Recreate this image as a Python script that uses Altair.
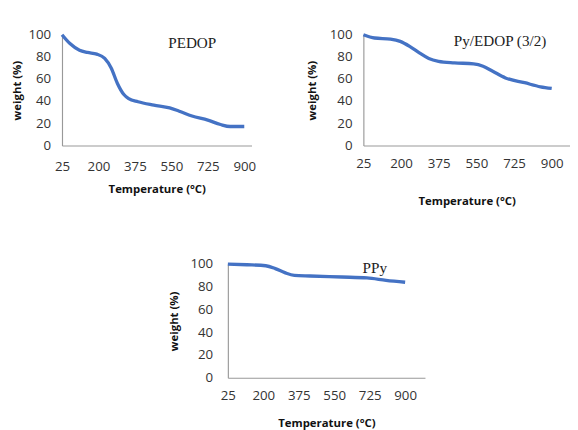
import altair as alt
import pandas as pd

# PEDOP
t1 = [25, 63, 109, 147, 192, 230, 261, 291, 322, 345, 390, 466, 542, 588, 649, 725, 786, 832, 900]
w1 = [100, 92, 86, 84, 82.5, 78.6, 70, 56, 46, 42.4, 39.5, 36.5, 34, 31, 26.7, 23, 19, 17.2, 17.2]
# Py/EDOP (3/2)
t2 = [25, 77, 151, 196, 240, 285, 329, 374, 448, 537, 581, 626, 685, 774, 848, 900]
w2 = [100, 97, 96, 94, 89.5, 83.6, 78.5, 76, 74.6, 73.7, 71.6, 67, 61, 56.7, 53, 51.5]
# PPy
t3 = [25, 119, 212, 259, 306, 353, 431, 587, 712, 806, 900]
w3 = [100, 99.4, 98.5, 96, 92.4, 90, 89.5, 88.6, 87.8, 85.7, 84]

x_ticks = [25, 200, 375, 550, 725, 900]
y_ticks = [0, 20, 40, 60, 80, 100]
names = ["PEDOP", "Py/EDOP (3/2)", "PPy"]
label_t = [650, 660, 750]
label_w = [92, 94, 96.5]

BLUE = "#4472C4"


def panel(ts, ws, name, lt, lw, width, height, xmax, xlp, xtp, ylp, ytp):
    df = pd.DataFrame({"T": ts, "W": ws})
    x = alt.X("T:Q", scale=alt.Scale(domain=[25, xmax], nice=False, zero=False),
              axis=alt.Axis(values=x_ticks, title="Temperature (°C)", grid=False, ticks=False,
                            labelOverlap=False, labelFlush=False,
                            labelPadding=xlp, titlePadding=xtp))
    y = alt.Y("W:Q", scale=alt.Scale(domain=[0, 100], nice=False),
              axis=alt.Axis(values=y_ticks, title="weight (%)", grid=False, ticks=False,
                            labelOverlap=False, labelFlush=False,
                            labelPadding=ylp, titlePadding=ytp))
    line = alt.Chart(df).mark_line(color=BLUE, strokeWidth=3.5, interpolate="monotone").encode(x=x, y=y)
    ldf = pd.DataFrame({"T": [lt], "W": [lw], "name": [name]})
    txt = alt.Chart(ldf).mark_text(font="Liberation Serif", fontSize=16, color="#222222").encode(
        x=x, y=y, text="name:N")
    return alt.layer(line, txt).properties(width=width, height=height)


p1 = panel(t1, w1, names[0], label_t[0], label_w[0], 200, 117, 935, 15, 12, 12, 5)
p2 = panel(t2, w2, names[1], label_t[1], label_w[1], 218, 117, 985, 12, 27, 12, 12)
p3 = panel(t3, w3, names[2], label_t[2], label_w[2], 208, 120, 998, 12, 16, 16, 10)

spacer = alt.Chart(pd.DataFrame({"a": [0]})).mark_point(opacity=0).encode(
    x=alt.X("a:Q", axis=None), y=alt.Y("a:Q", axis=None)).properties(width=1, height=1)

top = alt.hconcat(p1, p2, spacing=51)
bottom = alt.hconcat(spacer, p3, spacing=107)
chart = alt.vconcat(top, bottom, spacing=54).properties(
    padding={"left": 2, "top": 9, "right": 0, "bottom": 10}
).configure_view(stroke=None).configure_axis(
    domainColor="#999999", domainWidth=1.2, labelOverlap=False,
    labelFont="Open Sans", labelFontSize=14, labelColor="#333333",
    titleFont="Open Sans", titleFontSize=12, titleFontWeight="bold", titleColor="#111111"
)

chart.save("out.html", embed_options={"renderer": "svg", "actions": False})
